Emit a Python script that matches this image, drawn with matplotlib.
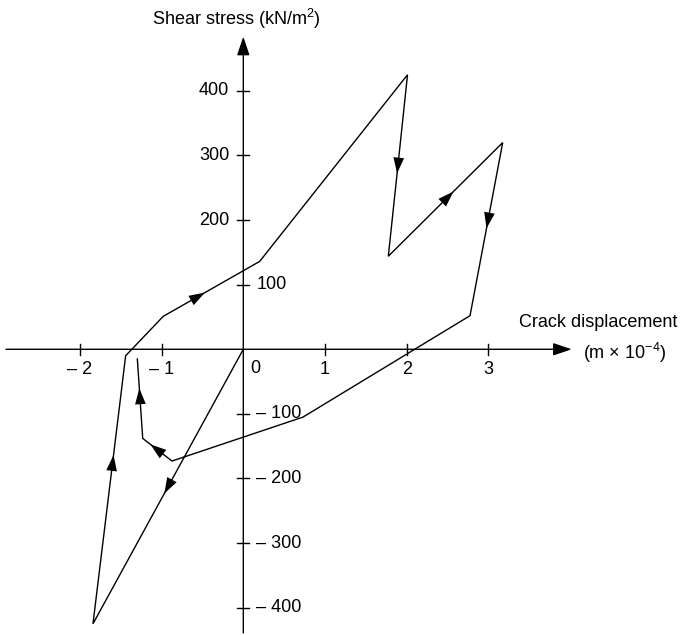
import matplotlib
matplotlib.use("Agg")
import matplotlib.pyplot as plt
import numpy as np

plt.rcParams['font.family'] = ['Liberation Sans', 'DejaVu Sans']
plt.rcParams['mathtext.fontset'] = 'custom'
plt.rcParams['mathtext.rm'] = 'Liberation Sans'
plt.rcParams['mathtext.it'] = 'Liberation Sans:italic'
plt.rcParams['mathtext.bf'] = 'Liberation Sans:bold'

# Data: hysteresis path (crack displacement m x 1e-4, shear stress kN/m^2)
disp = [0.0, -1.84, -1.44, -0.98, 0.20, 2.01, 1.775, 3.175, 2.775, 0.73, -0.873, -1.231, -1.297]
stress = [0.0, -425, -10, 51, 136, 425, 144, 320, 52, -105, -173, -138, -15]
# segments carrying a direction arrow, and position along the segment
arrow_segments = [0, 1, 3, 5, 6, 7, 10, 11]
arrow_fracs = [0.5, 0.6, 0.36, 0.5, 0.52, 0.45, 0.52, 0.53]

x_ticks = [-2, -1, 1, 2, 3]
x_tick_labels = ['\u2013 2', '\u2013 1', '1', '2', '3']
y_ticks = [400, 300, 200, 100, -100, -200, -300, -400]
y_tick_labels = ['400', '300', '200', '100', '\u2013 100', '\u2013 200', '\u2013 300', '\u2013 400']

fig = plt.figure(figsize=(6.84, 6.35), dpi=100)
ax = fig.add_axes([0, 0, 1, 1])
ax.set_xlim(-2.978, 5.394)
ax.set_ylim(-442.3, 540.7)
ax.axis('off')

sx = 81.7      # px per unit displacement
sy = 0.646     # px per kN/m2

fs = 13
head = '-|>,head_length=0.95,head_width=0.32'
# axes with arrows
ax.annotate('', xy=(4.02, 0), xytext=(-2.905, 0),
            arrowprops=dict(arrowstyle=head, color='black', lw=1.0,
                            shrinkA=0, shrinkB=0, mutation_scale=12))
ax.annotate('', xy=(0, 484), xytext=(0, -439),
            arrowprops=dict(arrowstyle=head, color='black', lw=1.0,
                            shrinkA=0, shrinkB=0, mutation_scale=12))

# ticks
tl_x = 5.5 / sy
for t, lab in zip(x_ticks, x_tick_labels):
    ax.plot([t, t], [-tl_x, tl_x], color='black', lw=1.0)
    ax.text(t, -12 / sy, lab, ha='center', va='top', fontsize=fs)
ax.text(0.09, -11 / sy, '0', ha='left', va='top', fontsize=fs)

tl_y = 6 / sx
for t, lab in zip(y_ticks, y_tick_labels):
    ax.plot([-tl_y, tl_y], [t, t], color='black', lw=1.0)
    if t > 100:
        ax.text(-14 / sx, t, lab, ha='right', va='center', fontsize=fs)
    else:
        ax.text(13 / sx, t, lab, ha='left', va='center', fontsize=fs)

# axis titles
ax.text(-0.09, 540.7 - 19 / sy, 'Shear stress (kN/m$^2$)', ha='center', va='center', fontsize=fs)
ax.text(4.34, 27 / sy, 'Crack displacement', ha='center', va='center', fontsize=fs)
ax.text(4.67, -4 / sy, '(m \u00d7 10$^{-4}$)', ha='center', va='center', fontsize=fs)

# path
ax.plot(disp, stress, color='black', lw=1.0, solid_joinstyle='miter')

# direction arrows
for seg, f in zip(arrow_segments, arrow_fracs):
    x0, y0 = disp[seg], stress[seg]
    x1, y1 = disp[seg + 1], stress[seg + 1]
    xm, ym = x0 + f * (x1 - x0), y0 + f * (y1 - y0)
    dxp, dyp = (x1 - x0) * sx, (y1 - y0) * sy
    L = np.hypot(dxp, dyp)
    ux, uy = dxp / L, dyp / L
    ax.annotate('', xy=(xm + ux * 8 / sx, ym + uy * 8 / sy),
                xytext=(xm - ux * 8 / sx, ym - uy * 8 / sy),
                arrowprops=dict(arrowstyle=head, color='black', lw=0.01,
                                shrinkA=0, shrinkB=0, mutation_scale=12))

fig.savefig('out.png', dpi=100)
